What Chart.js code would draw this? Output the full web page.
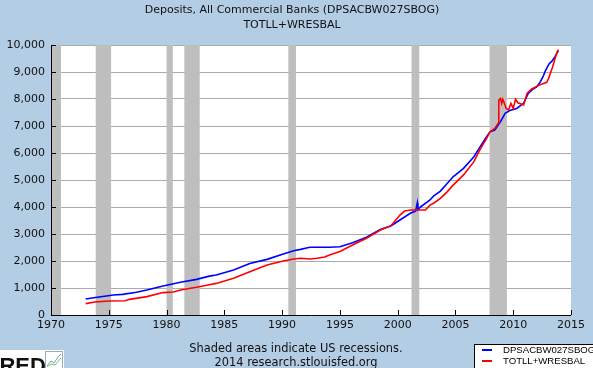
<!DOCTYPE html>
<html>
<head>
<meta charset="utf-8">
<script src="https://cdn.jsdelivr.net/npm/chart.js@4.4.1/dist/chart.umd.min.js"></script>
<style>
  body { margin: 0; background: #b3cde4; }
  canvas { display: block; }
</style>
</head>
<body>
<canvas id="chart" width="593" height="368"></canvas>
<script>
// Deposits, All Commercial Banks (DPSACBW027SBOG), billions
const depYears = [1973.0, 1973.7, 1975.4, 1976.2, 1977.4, 1978.3, 1979.7, 1981.2, 1982.6, 1983.7,
  1984.3, 1985.8, 1987.2, 1988.7, 1990.1, 1991.0, 1991.6, 1992.4, 1993.3, 1994.1,
  1995.0, 1996.1, 1997.3, 1998.5, 1999.4, 2000.2, 2001.1, 2001.55, 2001.7, 2001.75,
  2002.0, 2002.8, 2003.1, 2003.7, 2004.3, 2004.8, 2005.7, 2006.6, 2007.1, 2007.7,
  2008.0, 2008.4, 2008.6, 2008.9, 2009.3, 2009.7, 2010.3, 2010.9, 2011.3, 2011.6,
  2012.05, 2012.3, 2012.6, 2012.8, 2013.1, 2013.35, 2013.6, 2013.9];
const depValues = [590, 640, 740, 765, 840, 925, 1075, 1210, 1320, 1440,
  1480, 1670, 1910, 2060, 2260, 2380, 2430, 2510, 2510, 2510,
  2530, 2680, 2880, 3170, 3300, 3520, 3770, 3850, 4150, 3900,
  4010, 4260, 4400, 4590, 4880, 5120, 5430, 5860, 6210, 6600,
  6790, 6850, 6975, 7160, 7470, 7570, 7650, 7840, 8210, 8330,
  8460, 8600, 8850, 9060, 9300, 9400, 9560, 9780];

// TOTLL+WRESBAL
const loanYears = [1973.0, 1973.8, 1975.0, 1976.4, 1976.8, 1978.3, 1979.7, 1980.6, 1981.2, 1982.6,
  1983.7, 1984.3, 1985.8, 1987.2, 1988.7, 1990.1, 1991.0, 1991.6, 1992.4, 1993.0,
  1993.7, 1994.1, 1995.0, 1996.1, 1997.3, 1998.5, 1999.4, 2000.2, 2000.6, 2001.1,
  2002.4, 2002.8, 2003.1, 2003.7, 2004.3, 2004.8, 2005.7, 2006.6, 2007.1, 2007.7,
  2008.0, 2008.4, 2008.7, 2008.75, 2008.9, 2009.0, 2009.1, 2009.4, 2009.6, 2009.8,
  2010.0, 2010.2, 2010.4, 2010.9, 2011.2, 2011.6, 2011.9, 2012.5, 2012.9, 2013.05,
  2013.4, 2013.75, 2013.9];
const loanValues = [420, 480, 520, 530, 580, 680, 830, 850, 925, 1025,
  1120, 1170, 1360, 1600, 1850, 2000, 2075, 2100, 2075, 2100,
  2150, 2220, 2350, 2590, 2840, 3150, 3300, 3700, 3850, 3890,
  3890, 4070, 4140, 4320, 4570, 4810, 5190, 5680, 6110, 6540,
  6790, 6910, 7100, 7960, 8020, 7840, 7990, 7650, 7590, 7840,
  7650, 7990, 7860, 7780, 8210, 8370, 8440, 8560, 8620, 8750,
  9180, 9680, 9830];

const recessionStart = [1969.92, 1973.87, 1980.0, 1981.54, 1990.54, 2001.2, 2007.95];
const recessionEnd = [1970.87, 1975.2, 1980.54, 1982.87, 1991.2, 2001.87, 2009.45];

const seriesNames = ["DPSACBW027SBOG", "TOTLL+WRESBAL"];
const seriesColors = ["#0000ff", "#ff0000"];

const toPoints = (xs, ys) => xs.map((x, i) => ({ x: x, y: ys[i] }));

////////////////////////////////////////////////////////////////////////////////////

const fredDecor = {
  id: "fredDecor",
  beforeDraw(chart) {
    const c = chart.ctx, a = chart.chartArea;
    c.save();
    c.fillStyle = "#b3cde4";
    c.fillRect(0, 0, chart.width, chart.height);
    c.fillStyle = "#ffffff";
    c.fillRect(a.left, a.top, a.right - a.left, a.bottom - a.top);
    c.restore();
  },
  beforeDatasetsDraw(chart) {
    const c = chart.ctx, a = chart.chartArea, x = chart.scales.x;
    c.save();
    c.fillStyle = "#bebebe";
    for (let i = 0; i < recessionStart.length; i++) {
      const x0 = Math.max(a.left, x.getPixelForValue(recessionStart[i]));
      const x1 = Math.min(a.right, x.getPixelForValue(recessionEnd[i]));
      c.fillRect(x0, a.top, x1 - x0, a.bottom - a.top);
    }
    c.restore();
  },
  afterDatasetsDraw(chart) {
    const c = chart.ctx, a = chart.chartArea;
    const xs = chart.scales.x, ys = chart.scales.y;
    c.save();
    c.strokeStyle = "#000";
    c.lineWidth = 1;
    c.beginPath();
    c.moveTo(a.left + 0.5, a.top);
    c.lineTo(a.left + 0.5, a.bottom + 0.5);
    c.lineTo(a.right, a.bottom + 0.5);
    // inward ticks
    xs.ticks.forEach(t => {
      const px = Math.round(xs.getPixelForValue(t.value)) + 0.5;
      c.moveTo(px, a.bottom);
      c.lineTo(px, a.bottom - 5);
    });
    ys.ticks.forEach(t => {
      const py = Math.round(ys.getPixelForValue(t.value)) + 0.5;
      c.moveTo(a.left, py);
      c.lineTo(a.left + 5, py);
    });
    c.stroke();
    c.restore();
  },
  afterDraw(chart) {
    const c = chart.ctx;
    c.save();
    c.fillStyle = "#111";
    c.textAlign = "center";
    c.textBaseline = "middle";
    c.font = "11px 'DejaVu Sans'";
    c.fillText("Deposits, All Commercial Banks (DPSACBW027SBOG)", 292, 10);
    c.fillText("TOTLL+WRESBAL", 292, 25);
    c.font = "11.4px 'DejaVu Sans'";
    c.fillText("Shaded areas indicate US recessions.", 296, 349);
    c.fillText("2014 research.stlouisfed.org", 296, 363);

    // legend box, partly off the right edge
    c.fillStyle = "#ffffff";
    c.fillRect(474.5, 344.5, 130, 30);
    c.strokeStyle = "#000";
    c.lineWidth = 1;
    c.strokeRect(474.5, 344.5, 130, 30);
    c.textAlign = "left";
    c.font = "9.6px 'Liberation Sans'";
    seriesNames.forEach((name, i) => {
      const y = 350 + i * 11;
      c.strokeStyle = seriesColors[i];
      c.lineWidth = 2;
      c.beginPath();
      c.moveTo(482, y);
      c.lineTo(492, y);
      c.stroke();
      c.fillStyle = "#000";
      c.fillText(name, 503, y + 0.5);
    });

    // FRED logo corner
    c.fillStyle = "#ffffff";
    c.fillRect(0, 350, 64, 18);
    c.fillStyle = "#111";
    c.font = "bold 22px 'Liberation Sans'";
    c.textBaseline = "alphabetic";
    c.fillText("FRED", -14, 373);
    c.strokeStyle = "#9ab";
    c.lineWidth = 1;
    c.strokeRect(45.5, 351.5, 17, 17);
    c.strokeStyle = "#6a9fd0";
    c.beginPath();
    c.moveTo(47, 366); c.lineTo(51, 361); c.lineTo(54, 363); c.lineTo(58, 357); c.lineTo(61, 354);
    c.stroke();
    c.strokeStyle = "#8bbf5a";
    c.beginPath();
    c.moveTo(47, 367); c.lineTo(51, 364); c.lineTo(55, 365); c.lineTo(61, 358);
    c.stroke();
    c.restore();
  }
};

////////////////////////////////////////////////////////////////////////////////////

const canvas = document.querySelector("#chart");
const myChart = new Chart(canvas, {
  type: "line",
  data: {
    datasets: [
      {
        label: seriesNames[0],
        data: toPoints(depYears, depValues),
        borderColor: seriesColors[0],
        borderWidth: 1.6,
        pointRadius: 0,
        tension: 0,
        order: 1
      },
      {
        label: seriesNames[1],
        data: toPoints(loanYears, loanValues),
        borderColor: seriesColors[1],
        borderWidth: 1.6,
        pointRadius: 0,
        tension: 0,
        order: 0
      }
    ]
  },
  options: {
    responsive: false,
    animation: false,
    events: [],
    layout: { padding: { top: 45, left: 1, right: 22, bottom: 33 } },
    plugins: {
      legend: { display: false },
      tooltip: { enabled: false }
    },
    scales: {
      x: {
        type: "linear",
        min: 1970,
        max: 2015,
        ticks: {
          stepSize: 5,
          maxRotation: 0,
          autoSkip: false,
          padding: 4,
          color: "#111",
          font: { family: "DejaVu Sans", size: 11 },
          callback: v => String(v)
        },
        grid: { display: false, drawTicks: false },
        border: { display: false },
        afterFit: s => { s.height = 20; }
      },
      y: {
        min: 0,
        max: 10000,
        ticks: {
          stepSize: 1000,
          padding: 6,
          color: "#111",
          font: { family: "DejaVu Sans", size: 11 },
          callback: v => v.toLocaleString("en-US")
        },
        grid: { color: "#aaaaaa", lineWidth: 1, drawTicks: false },
        border: { display: false },
        afterFit: s => { s.width = 50; }
      }
    }
  },
  plugins: [fredDecor]
});
</script>
</body>
</html>
